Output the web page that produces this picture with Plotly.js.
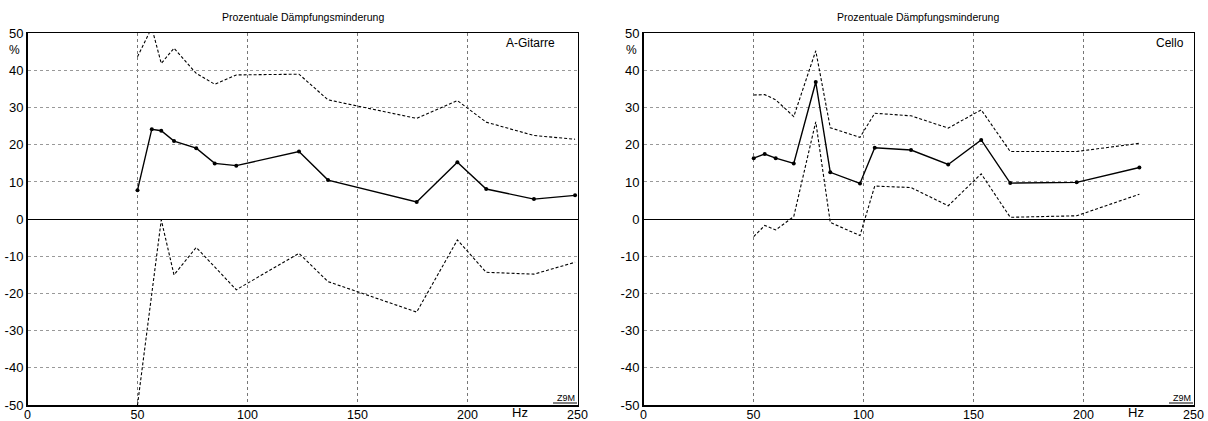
<!DOCTYPE html>
<html>
<head>
<meta charset="utf-8">
<script src="https://cdn.plot.ly/plotly-3.0.1.min.js"></script>
<style>html,body{margin:0;padding:0;background:#fff;}#chart{width:1208px;height:421px;}</style>
</head>
<body>
<div id="chart"></div>
<script>
// ---- Data ----
const chartTitle = "Prozentuale Dämpfungsminderung";
const xTicks = [0, 50, 100, 150, 200, 250];
const yTicks = [-50, -40, -30, -20, -10, 0, 10, 20, 30, 40, 50];

// Left panel: A-Gitarre
const gitFreq  = [50, 56.5, 60.8, 66.6, 76.7, 85.1, 94.9, 123.4, 136.6, 176.9, 195.4, 208.5, 230.2, 248.9];
const gitMean  = [7.8, 24.2, 23.8, 21.0, 19.1, 15.0, 14.4, 18.2, 10.5, 4.6, 15.3, 8.1, 5.4, 6.4];
const gitUpper = [43.7, 51.5, 41.9, 46.0, 39.2, 36.3, 38.8, 39.0, 32.1, 27.1, 31.9, 26.1, 22.5, 21.5];
const gitLower = [-50, -20, -0.2, -15.0, -7.6, -19.0, -9.2, -16.8, -25.0, -5.6, -14.3, -14.8, -11.6];
const gitLowerFreq = [50, 56.5, 60.8, 66.6, 76.7, 94.9, 123.4, 136.6, 176.9, 195.4, 208.5, 230.2, 248.9];

// Right panel: Cello
const celFreq  = [50.1, 55.1, 60.1, 68.3, 78.3, 84.9, 98.4, 105.1, 121.6, 138.5, 153.5, 166.7, 196.9, 225.4];
const celMean  = [16.4, 17.5, 16.4, 15.0, 36.9, 12.6, 9.6, 19.2, 18.6, 14.7, 21.3, 9.7, 9.9, 13.9];
const celUpper = [33.4, 33.5, 32.1, 27.6, 45.3, 24.6, 22.0, 28.5, 27.8, 24.5, 29.4, 18.2, 18.2, 20.4];
const celLower = [-4.7, -1.7, -2.9, 0.7, 26.2, -0.9, -4.4, 8.9, 8.5, 3.6, 12.2, 0.5, 0.9, 6.7];

const labelLeft = "A-Gitarre";
const labelRight = "Cello";
const unitY = "%";
const unitX = "Hz";
const signature = "Z9M";

// ---- Styles ----
const FONT = "Liberation Sans, Arial, Helvetica, sans-serif";
const solidLine = {color: "#000", width: 1.4};
const dashLine = {color: "#000", width: 1.1, dash: "3px,2px"};
const marker = {color: "#000", size: 4};

function tr(x, y, xa, ya, line, withMarkers) {
  return {
    x: x, y: y, xaxis: xa, yaxis: ya, type: "scatter",
    mode: withMarkers ? "lines+markers" : "lines",
    line: line, marker: marker, hoverinfo: "skip", showlegend: false
  };
}

const data = [
  tr(gitFreq, gitUpper, "x", "y", dashLine, false),
  tr(gitLowerFreq, gitLower, "x", "y", dashLine, false),
  tr(gitFreq, gitMean, "x", "y", solidLine, true),
  tr(celFreq, celUpper, "x2", "y2", dashLine, false),
  tr(celFreq, celLower, "x2", "y2", dashLine, false),
  tr(celFreq, celMean, "x2", "y2", solidLine, true)
];

const W = 1208, H = 421;
const yDom = [1 - 405 / H, 1 - 33.3 / H];
const xDom1 = [27.5 / W, 577.5 / W];
const xDom2 = [643.5 / W, 1193.5 / W];

function xAxis(dom, anchor) {
  return {
    domain: dom, anchor: anchor, range: [0, 250], tickvals: xTicks, ticktext: xTicks.map(String),
    showline: true, linecolor: "#000", linewidth: 1.5, mirror: true,
    showgrid: true, gridcolor: "#777", griddash: "dot", gridwidth: 1,
    zeroline: false, ticks: "", ticklabelstandoff: -3,
    tickfont: {family: FONT, size: 12.5, color: "#000"}, fixedrange: true
  };
}
function yAxis(anchor) {
  return {
    domain: yDom, anchor: anchor, range: [-50, 50], tickvals: yTicks, ticktext: yTicks.map(String),
    showline: true, linecolor: "#000", linewidth: 1.5, mirror: true,
    showgrid: true, gridcolor: "#999", griddash: "dot", gridwidth: 1,
    zeroline: true, zerolinecolor: "#000", zerolinewidth: 1.2,
    ticks: "", ticklabelstandoff: 0,
    tickfont: {family: FONT, size: 13, color: "#000"}, fixedrange: true
  };
}

function ann(text, x, y, xref, yref, xanchor, yanchor, size) {
  return {text: text, x: x, y: y, xref: xref, yref: yref, xanchor: xanchor, yanchor: yanchor,
          showarrow: false, font: {family: FONT, size: size, color: "#000"}};
}

const annotations = [
  ann(chartTitle, (xDom1[0] + xDom1[1]) / 2, 1 - 17 / H, "paper", "paper", "center", "middle", 10.5),
  ann(chartTitle, (xDom2[0] + xDom2[1]) / 2, 1 - 17 / H, "paper", "paper", "center", "middle", 10.5),
  ann(unitY, 15 / W, 1 - 50 / H, "paper", "paper", "center", "middle", 12),
  ann(unitY, 631 / W, 1 - 50 / H, "paper", "paper", "center", "middle", 12),
  ann(labelLeft, 557 / W, 1 - 43 / H, "paper", "paper", "right", "middle", 12),
  ann(labelRight, 1186 / W, 1 - 43 / H, "paper", "paper", "right", "middle", 12),
  ann(unitX, 520 / W, 1 - 412 / H, "paper", "paper", "center", "middle", 13),
  ann(unitX, 1136 / W, 1 - 412 / H, "paper", "paper", "center", "middle", 13),
  ann(signature, 577 / W, 1 - 398 / H, "paper", "paper", "right", "middle", 9),
  ann(signature, 1193 / W, 1 - 398 / H, "paper", "paper", "right", "middle", 9)
];

const shapes = [
  {type: "line", xref: "paper", yref: "paper", x0: 553 / W, x1: 577 / W, y0: 1 - 403 / H, y1: 1 - 403 / H, line: {color: "#000", width: 1}},
  {type: "line", xref: "paper", yref: "paper", x0: 1169 / W, x1: 1193 / W, y0: 1 - 403 / H, y1: 1 - 403 / H, line: {color: "#000", width: 1}}
];

const layout = {
  width: W, height: H,
  margin: {l: 0, r: 0, t: 0, b: 0},
  paper_bgcolor: "#fff", plot_bgcolor: "#fff",
  showlegend: false,
  xaxis: xAxis(xDom1, "y"),
  yaxis: yAxis("x"),
  xaxis2: xAxis(xDom2, "y2"),
  yaxis2: yAxis("x2"),
  annotations: annotations,
  shapes: shapes
};

Plotly.newPlot("chart", data, layout, {staticPlot: true, displayModeBar: false});
</script>
</body>
</html>
